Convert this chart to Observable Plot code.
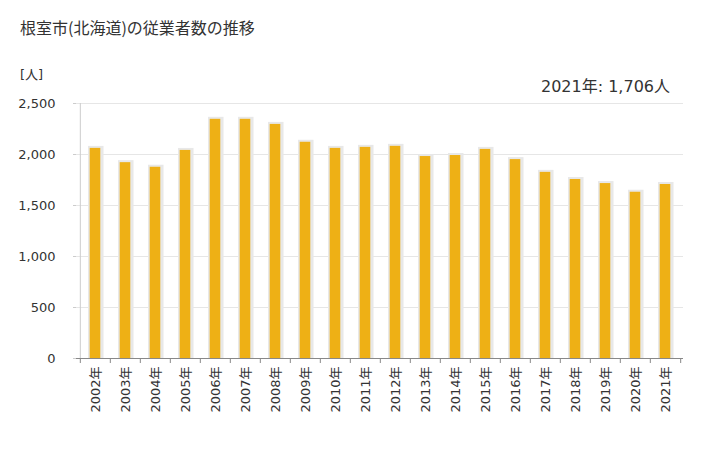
<!DOCTYPE html>
<html><head><meta charset="utf-8">
<script src="https://cdn.jsdelivr.net/npm/d3@7"></script>
<script src="https://cdn.jsdelivr.net/npm/@observablehq/plot@0.6"></script>
<style>
body{margin:0;background:#fff;font-family:"DejaVu Sans","Noto Sans CJK JP",sans-serif;color:#333}
#wrap{position:relative;width:728px;height:450px;overflow:hidden}
#chart{position:absolute;left:0;top:0}
.t{position:absolute;white-space:nowrap;line-height:1;color:#333}
</style></head><body>
<div id="wrap">
<div id="chart"></div>
<div class="t" style="left:20px;top:19px;font-size:16px;font-family:'Noto Sans CJK JP','DejaVu Sans',sans-serif">根室市(北海道)の従業者数の推移</div>
<div class="t" style="left:20px;top:68px;font-size:13px">[人]</div>
<div class="t" style="right:58px;top:79px;font-size:16px">2021年: 1,706人</div>
</div>
<script>
const years = ["2002年","2003年","2004年","2005年","2006年","2007年","2008年","2009年","2010年","2011年","2012年","2013年","2014年","2015年","2016年","2017年","2018年","2019年","2020年","2021年"];
const values = [2060,1920,1875,2040,2345,2345,2295,2120,2060,2070,2080,1980,1990,2050,1950,1825,1755,1715,1630,1706];
const yTicks = [0,500,1000,1500,2000,2500];

const data = years.map((y, i) => ({year: y, value: values[i]}));
const half = (728 - 76 - 45) / years.length / 2;

const chart = Plot.plot({
  width: 728, height: 450,
  marginTop: 103, marginBottom: 92, marginLeft: 76, marginRight: 45,
  style: {fontFamily: "'DejaVu Sans','Noto Sans CJK JP',sans-serif", fontSize: "13px", color: "#333", background: "transparent"},
  x: {domain: years, padding: 0, label: null},
  y: {domain: [0, 2500], label: null},
  marks: [
    Plot.gridY(yTicks, {stroke: "#e6e6e6", strokeOpacity: 1}),
    Plot.ruleX([years[0]], {dx: -half, y1: 0, y2: 2500, stroke: "#cccccc"}),
    Plot.barY(data, {x: "year", y: "value", fill: "#e8e8e8", insetLeft: 8, insetRight: 6.5, insetTop: -2}),
    Plot.barY(data, {x: "year", y: "value", fill: "#EEB015", insetLeft: 9.7, insetRight: 9.7}),
    Plot.axisY(yTicks, {tickSize: 3, stroke: "#cccccc", fill: "none"}),
    Plot.axisY(yTicks, {tickSize: 0, tickPadding: 21, tickFormat: d3.format(","), fill: "#333", fontSize: 13}),
    Plot.axisX({tickSize: 0, tickPadding: 8, tickRotate: -90, fill: "#333", fontSize: 13}),
    Plot.axisX({tickSize: 5, dx: -half, stroke: "#888", fill: "none"}),
    Plot.axisX([years[years.length - 1]], {tickSize: 5, dx: half, stroke: "#888", fill: "none"}),
    Plot.ruleY([0], {stroke: "#888"})
  ]
});
document.getElementById("chart").appendChild(chart);
</script>
</body></html>
